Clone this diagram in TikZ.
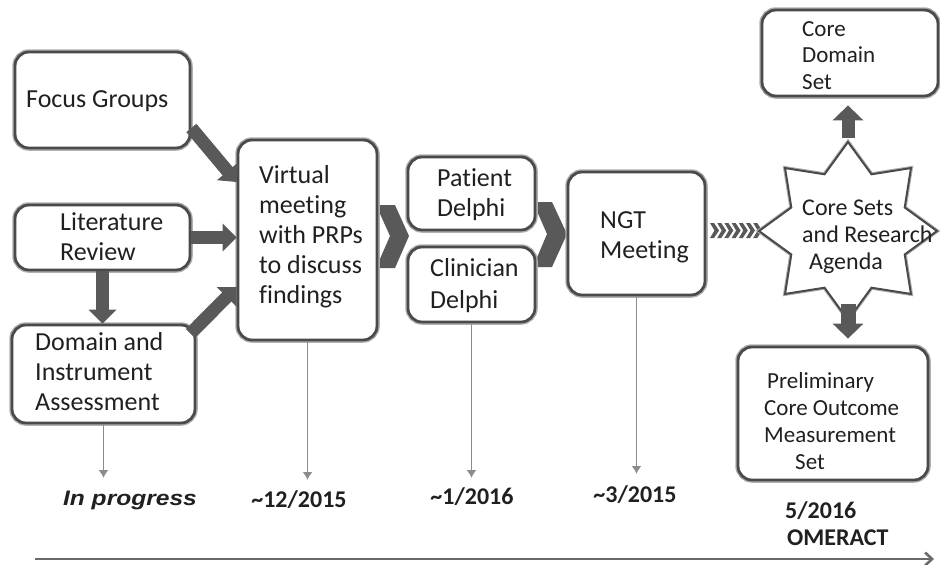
\documentclass[tikz,border=0pt]{standalone}
\usepackage{fontspec}
\usepackage{graphicx}
\setmainfont[Ligatures=NoCommon]{Carlito}
\newfontfamily\arialfont{Liberation Sans}
\usetikzlibrary{arrows.meta,shapes.geometric,calc}
\definecolor{bord}{HTML}{4A4A4A}
\definecolor{glow}{HTML}{B0B0B0}
\definecolor{blk}{HTML}{595959}
\definecolor{thin}{HTML}{8C8C8C}
\definecolor{axis}{HTML}{6A6A6A}
\definecolor{txtc}{HTML}{202020}
\begin{document}
\begin{tikzpicture}[x=1pt,y=-1pt,
  box/.style={draw=bord, line width=2.8pt, rounded corners=14pt, fill=white,
    preaction={draw=glow, line width=5.5pt}, inner sep=0pt},
  txt/.style={font=\fontsize{26}{30}\selectfont, text=txtc, align=left, inner sep=0pt, anchor=west},
  txtr/.style={font=\fontsize{24}{27}\selectfont, text=txtc, align=left, inner sep=0pt, anchor=west},
  datel/.style={font=\bfseries\fontsize{24}{28}\selectfont, text=txtc, inner sep=0pt},
  blockarrow/.style={draw=blk, line width=13pt, -{Triangle[width=27pt,length=14pt]}},
  thinarrow/.style={draw=thin, line width=1.6pt, -{Latex[length=8pt,width=10pt]}},
  chevron/.style={fill=blk, draw=none}
]
\useasboundingbox (0,0) rectangle (940,565);

% chevrons (behind boxes)
\fill[chevron] (376,205) -- (395,205) -- (409,236) -- (395,268) -- (376,268) -- (390,236) -- cycle;
\fill[chevron] (533,202) -- (552,202) -- (567,234) -- (552,267) -- (533,267) -- (547,234) -- cycle;
\foreach \i in {0,...,6} {
  \fill[chevron] (710+7.2*\i,223) -- (714+7.2*\i,223) -- (719+7.2*\i,230.5) -- (714+7.2*\i,238) -- (710+7.2*\i,238) -- (714.5+7.2*\i,230.5) -- cycle;
}

% boxes
\node[box, minimum width=175pt, minimum height=96pt] (fg) at (102.5,100) {};
\node[box, minimum width=175pt, minimum height=65pt] (lr) at (102.5,237.5) {};
\node[box, minimum width=183pt, minimum height=98pt] (da) at (103.5,374) {};
\node[box, minimum width=139pt, minimum height=200pt] (vm) at (307.5,240) {};
\node[box, minimum width=127pt, minimum height=73pt] (pd) at (471.5,193.5) {};
\node[box, minimum width=127pt, minimum height=75pt] (cd) at (471.5,284.5) {};
\node[box, minimum width=137pt, minimum height=123pt] (ngt) at (636.5,233.5) {};
\node[box, minimum width=176pt, minimum height=86pt] (cds) at (850,53) {};
\node[box, minimum width=190pt, minimum height=133pt] (pcom) at (833,413.5) {};
\node[draw=bord, line width=2pt, fill=white, preaction={draw=glow, line width=4pt},
      star, star points=8, star point ratio=1.45, minimum size=178pt, inner sep=0pt] (st) at (848,231) {};

% texts
\node[txt] (t1) at (26,101) {Focus Groups};
\node[txt] (t2) at (60,237) {Literature\\Review};
\node[txt] (t3) at (35,372) {Domain and\\Instrument\\Assessment};
\node[txt] (t4) at (259,236.5) {Virtual\\meeting\\with PRPs\\to discuss\\findings};
\node[txt] (t5) at (437,195) {Patient\\Delphi};
\node[txt, font=\fontsize{26}{32}\selectfont] (t6) at (430,286) {Clinician\\Delphi};
\node[txt] (t7) at (600,237) {NGT\\Meeting};
\node[txtr] (t8) at (802,236.5) {Core Sets\\and Research\\\hspace*{7pt}Agenda};
\node[txtr, font=\fontsize{23}{26.5}\selectfont] (t9) at (802,55.5) {Core\\Domain\\Set};
\node[txtr, font=\fontsize{23}{27}\selectfont] (t10) at (764,421) {\hspace*{3pt}Preliminary\\Core Outcome\\Measurement\\\hspace*{31pt}Set};

% block arrows
\draw[blockarrow] ($(fg.east)+(0,28)$) -- ($(vm.west)+(0,-58)$);
\draw[blockarrow] (lr.east) -- (lr.east -| vm.west);
\draw[blockarrow] (lr.south) -- (lr.south |- da.north);
\draw[blockarrow] ($(da.north east)+(-6,10)$) -- ($(vm.west)+(0,47)$);
\draw[blockarrow, line width=13pt, -{Triangle[width=30pt,length=15pt]}] ($(st.north)+(0,-2)$) -- ($(st.north |- cds.south)+(0,8)$);
\draw[blockarrow, line width=15pt, -{Triangle[width=30pt,length=15pt]}] ($(st.south)+(0,-18)$) -- ($(st.south |- pcom.north)+(0,-7)$);

% date labels
\node[font=\arialfont\bfseries\itshape\fontsize{21}{24}\selectfont, text=txtc, inner sep=0pt] (l1) at (130,500) {\scalebox{1.17}[1]{In progress}};
\node[datel] (l2) at (299,500) {\textasciitilde12/2015};
\node[datel] (l3) at (472,497) {\textasciitilde1/2016};
\node[datel] (l4) at (635,495) {\textasciitilde3/2015};
\node[datel, align=left, anchor=west, font=\bfseries\fontsize{24}{27}\selectfont] (l5) at (785,524) {5/2016\\\hspace*{2pt}OMERACT};

% thin timeline arrows
\coordinate (e1) at (103.5,478);
\coordinate (e2) at (307.5,480);
\coordinate (e3) at (471.5,478);
\coordinate (e4) at (636.5,474);
\draw[thinarrow] (da.south) -- (e1);
\draw[thinarrow] (vm.south) -- (e2);
\draw[thinarrow] (cd.south) -- (e3);
\draw[thinarrow] (ngt.south) -- (e4);

% axis
\coordinate (ax0) at (35,559);
\coordinate (ax1) at (934,559);
\draw[draw=axis, line width=2.6pt, -{Straight Barb[length=7pt,width=13pt]}] (ax0) -- (ax1);
\end{tikzpicture}
\end{document}
